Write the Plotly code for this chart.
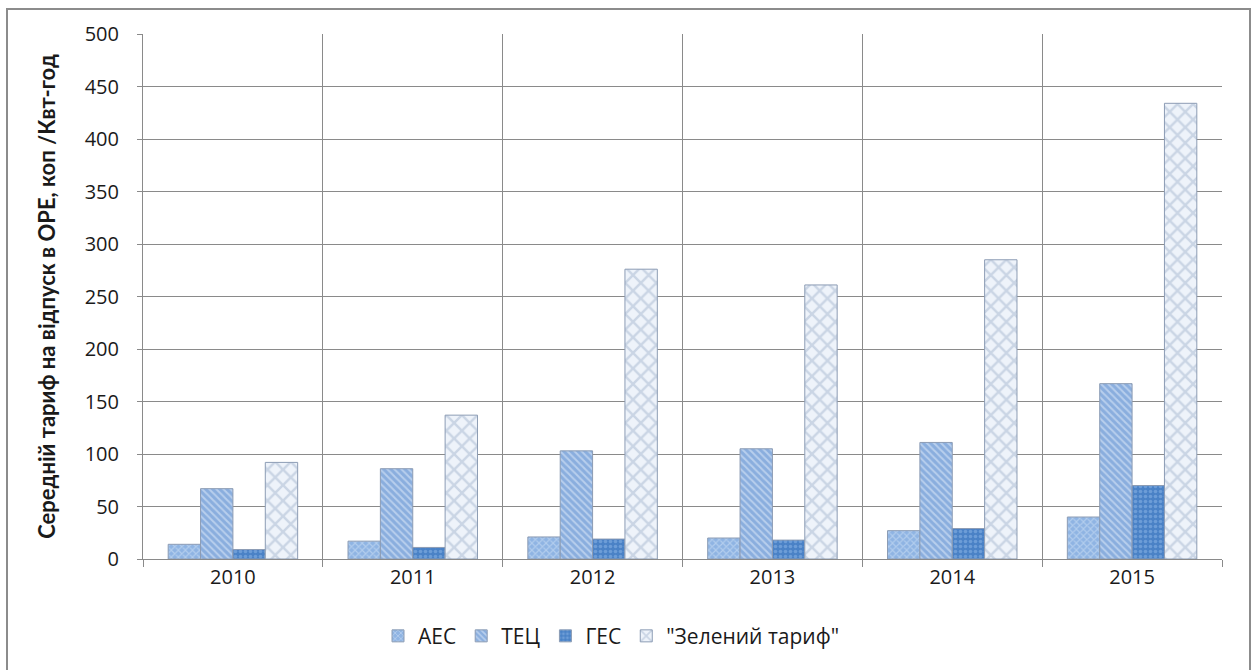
import plotly.graph_objects as go

years = ["2010", "2011", "2012", "2013", "2014", "2015"]
aes = [14, 17, 21, 20, 27, 40]
tec = [67, 86, 103, 105, 111, 167]
ges = [9, 11, 19, 18, 29, 70]
green = [92, 137, 276, 261, 285, 434]

series = [
    ("АЕС", aes, "#8fb4e3", "#d6e5f7", "x", 5),
    ("ТЕЦ", tec, "#8aaede", "#e6effb", "\\", 5),
    ("ГЕС", ges, "#4a82c6", "#8fb8e8", ".", 5),
    ('"Зелений тариф"', green, "#eef3fa", "#a6b7cf", "x", 11),
]

fig = go.Figure()
for name, vals, bg, fg, shape, size in series:
    fig.add_trace(go.Bar(
        name=name, x=years, y=vals,
        marker=dict(
            color=bg,
            line=dict(color="#8c9cb4", width=1),
            pattern=dict(shape=shape, fgcolor=fg, bgcolor=bg, size=size, solidity=0.4),
        ),
    ))

fig.update_layout(
    width=1259, height=670,
    margin=dict(l=143, r=37, t=34, b=111),
    paper_bgcolor="white", plot_bgcolor="white",
    barmode="group", bargap=0.28, bargroupgap=0,
    font=dict(family="'Open Sans', Lato, sans-serif", size=20, color="#1a1a1a"),
    showlegend=True,
    legend=dict(orientation="h", x=(378 - 143) / 1079, xanchor="left", y=-0.108, yanchor="top",
                font=dict(size=21), itemwidth=30, traceorder="normal"),
    xaxis=dict(
        type="category", tickson="boundaries", ticks="outside", ticklen=7,
        tickcolor="#8a8a8a", showgrid=True, gridcolor="#8a8a8a", gridwidth=1,
        showline=True, linecolor="#8a8a8a", linewidth=1,
        tickfont=dict(size=20),
    ),
    yaxis=dict(
        range=[0, 500], dtick=50, ticks="outside", ticklen=5, tickcolor="#8a8a8a",
        showgrid=True, gridcolor="#8a8a8a", gridwidth=1,
        showline=True, linecolor="#8a8a8a", linewidth=1, zeroline=False,
        tickfont=dict(size=20), ticklabelstandoff=14,
        title=dict(text="<b>Середній тариф на відпуск в ОРЕ, коп /Квт-год</b>",
                   font=dict(family="Lato, sans-serif", size=22), standoff=22),
    ),
    shapes=[dict(
        type="rect", xref="paper", yref="paper",
        x0=(7 - 143) / 1079, x1=(1250 - 143) / 1079,
        y0=(559 - 675) / 525, y1=(559 - 9) / 525,
        line=dict(color="#8c8c8c", width=2), layer="below",
    )],
)

fig.write_html("out.html")
